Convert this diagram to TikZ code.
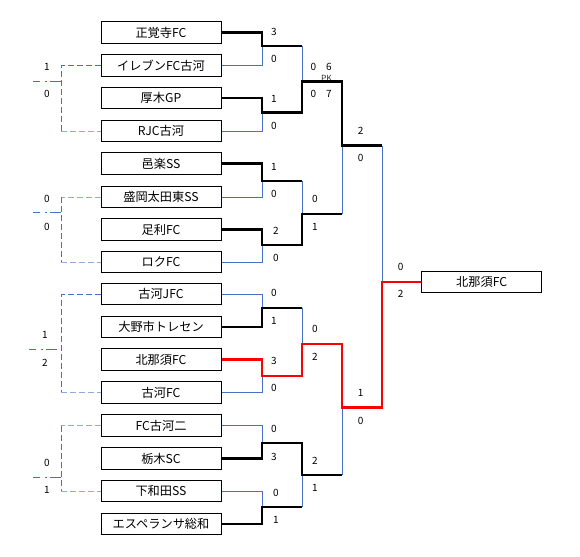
\documentclass[tikz,border=0pt]{standalone}
\usepackage{fontspec}
\setmainfont{Noto Sans CJK JP}
\definecolor{lb}{HTML}{4472C4}
\definecolor{llb}{HTML}{8FAADC}
\begin{document}
\begin{tikzpicture}[x=1pt,y=-1pt,
 team/.style={draw, line width=1pt, minimum width=120pt, minimum height=21.5pt, inner sep=0pt, font=\fontsize{12.2}{13}\selectfont},
 sc/.style={font=\fontsize{10}{11}\selectfont, inner sep=0pt, text=black},
 pk/.style={font=\fontsize{8.5}{9}\selectfont, inner sep=0pt, text=black!80},
 win/.style={line width=2.4pt, black, line join=miter},
 redw/.style={line width=2.4pt, red, line join=miter},
 lose/.style={line width=0.9pt, lb},
 dsh/.style={line width=0.9pt, lb, dash pattern=on 6pt off 3pt},
 ldsh/.style={line width=0.9pt, llb, dash pattern=on 6pt off 3pt},
 ddash/.style={line width=0.9pt, lb, dash pattern=on 7pt off 5pt on 2pt off 3pt on 11pt off 10pt}]
\useasboundingbox (0,0) rectangle (580,556);
% teams
\node[team] (t1) at (161,32.5) {正覚寺FC};
\node[team] (t2) at (161,65.5) {イレブンFC古河};
\node[team] (t3) at (161,98) {厚木GP};
\node[team] (t4) at (161,131) {RJC古河};
\node[team] (t5) at (161,163.5) {邑楽SS};
\node[team] (t6) at (161,197) {盛岡太田東SS};
\node[team] (t7) at (161,229.5) {足利FC};
\node[team] (t8) at (161,262) {ロクFC};
\node[team] (t9) at (161,294) {古河JFC};
\node[team] (t10) at (161,327) {大野市トレセン};
\node[team] (t11) at (161,359.5) {北那須FC};
\node[team] (t12) at (161,392.5) {古河FC};
\node[team] (t13) at (161,425.5) {FC古河二};
\node[team] (t14) at (161,458.5) {栃木SC};
\node[team] (t15) at (161,491) {下和田SS};
\node[team] (t16) at (161,524) {エスペランサ総和};
\node[team] (champ) at (481.7,282.2) {北那須FC};
% junction coordinates
\coordinate (m1) at (262,46);
\coordinate (m2) at (262,112.7);
\coordinate (m3) at (262,181);
\coordinate (m4) at (262,245);
\coordinate (m5) at (262,307.7);
\coordinate (m6) at (262,375.7);
\coordinate (m7) at (262,442.7);
\coordinate (m8) at (262,506.7);
\coordinate (n1) at (302,81.7);
\coordinate (n2) at (302,214);
\coordinate (n3) at (302,343.7);
\coordinate (n4) at (302,474.7);
\coordinate (s1) at (342,145.7);
\coordinate (s2) at (342,407.3);
\coordinate (f) at (382,282.2);
% left consolation coordinates
\coordinate (g1) at (61,81);
\coordinate (e1) at (33,81);
\coordinate (g2) at (61,212.7);
\coordinate (e2) at (33,212.7);
\coordinate (g3) at (61,349.3);
\coordinate (e3) at (29,349.3);
\coordinate (g4) at (61,477.3);
\coordinate (e4) at (33,477.3);
% scores round 1
\node[sc] (a1) at (274,31.7) {3};
\node[sc] (a2) at (274,58.7) {0};
\node[sc] (a3) at (274,99.3) {1};
\node[sc] (a4) at (274,126) {0};
\node[sc] (a5) at (274,167.3) {1};
\node[sc] (a6) at (274,194) {0};
\node[sc] (a7) at (276,231) {2};
\node[sc] (a8) at (276,258.3) {0};
\node[sc] (a9) at (274,293.3) {0};
\node[sc] (a10) at (274,320.7) {1};
\node[sc] (a11) at (274,361) {3};
\node[sc] (a12) at (274,388) {0};
\node[sc] (a13) at (274,429.3) {0};
\node[sc] (a14) at (274,456.7) {3};
\node[sc] (a15) at (276,493.3) {0};
\node[sc] (a16) at (276,520) {1};
% scores round 2
\node[sc] (b1) at (313.3,67.3) {0};
\node[sc] (b1p) at (329,67.3) {6};
\node[pk] (pk) at (326.5,78.3) {PK};
\node[sc] (b2) at (313.3,94.3) {0};
\node[sc] (b2p) at (329,94.3) {7};
\node[sc] (b3) at (315,199.3) {0};
\node[sc] (b4) at (315,226.7) {1};
\node[sc] (b5) at (315,329.3) {0};
\node[sc] (b6) at (315,356.7) {2};
\node[sc] (b7) at (315,461) {2};
\node[sc] (b8) at (315,488.3) {1};
% scores round 3
\node[sc] (c1) at (360.7,131) {2};
\node[sc] (c2) at (360.7,158.3) {0};
\node[sc] (c3) at (360.7,393.3) {1};
\node[sc] (c4) at (360.7,420.7) {0};
% final
\node[sc] (d1) at (400.7,267) {0};
\node[sc] (d2) at (400.7,294.3) {2};
% left scores
\node[sc] (l1) at (47,67) {1};
\node[sc] (l2) at (47,94) {0};
\node[sc] (l3) at (47,199.3) {0};
\node[sc] (l4) at (47,226.7) {0};
\node[sc] (l5) at (45,335.3) {1};
\node[sc] (l6) at (45,362.7) {2};
\node[sc] (l7) at (47,463.3) {0};
\node[sc] (l8) at (47,490) {1};
% left dashed brackets
\draw[dsh] (t2.west) -- (t2.west -| g1) -- (t4.west -| g1);
\draw[ldsh] (t4.west -| g1) -- (t4.west);
\draw[ddash] (e1) -- (g1);
\draw[ldsh] (t6.west) -- (t6.west -| g2);
\draw[dsh] (t6.west -| g2) -- (t8.west -| g2);
\draw[ldsh] (t8.west -| g2) -- (t8.west);
\draw[ddash] (e2) -- (g2);
\draw[dsh] (t9.west) -- (t9.west -| g3) -- (t12.west -| g3);
\draw[ldsh] (t12.west -| g3) -- (t12.west);
\draw[ddash] (e3) -- (g3);
\draw[ldsh] (t13.west) -- (t13.west -| g4);
\draw[dsh] (t13.west -| g4) -- (t15.west -| g4);
\draw[ldsh] (t15.west -| g4) -- (t15.west);
\draw[ddash] (e4) -- (g4);
% thin loser lines
\draw[lose] (t2.east) -| (m1);
\draw[lose] (t4.east) -| (m2);
\draw[lose] (t6.east) -| (m3);
\draw[lose] (t8.east) -| (m4);
\draw[lose] (t9.east) -| (m5);
\draw[lose] (t12.east) -| (m6);
\draw[lose] (t13.east) -| (m7);
\draw[lose] (t15.east) -| (m8);
\draw[lose] (m1 -| n1) -- (n1);
\draw[lose] (m3 -| n2) -- (n2);
\draw[lose] (m5 -| n3) -- (n3);
\draw[lose] (m8 -| n4) -- (n4);
\draw[lose] (n2 -| s1) -- (s1);
\draw[lose] (n4 -| s2) -- (s2);
\draw[lose] (s1 -| f) -- (f);
% thick winner lines
\draw[win] (t1.east) -| (m1) -- (m1 -| n1);
\draw[win] (t3.east) -| (m2) -- (m2 -| n1) -- (n1) -- (n1 -| s1) -- (s1) -- (s1 -| f);
\draw[win] (t5.east) -| (m3) -- (m3 -| n2);
\draw[win] (t7.east) -| (m4) -- (m4 -| n2) -- (n2) -- (n2 -| s1);
\draw[win] (t10.east) -| (m5) -- (m5 -| n3);
\draw[win] (t14.east) -| (m7) -- (m7 -| n4) -- (n4) -- (n4 -| s2);
\draw[win] (t16.east) -| (m8) -- (m8 -| n4);
\draw[redw] (t11.east) -| (m6) -- (m6 -| n3) -- (n3) -- (n3 -| s2) -- (s2) -- (s2 -| f) -- (f) -- (champ.west);
\end{tikzpicture}
\end{document}
